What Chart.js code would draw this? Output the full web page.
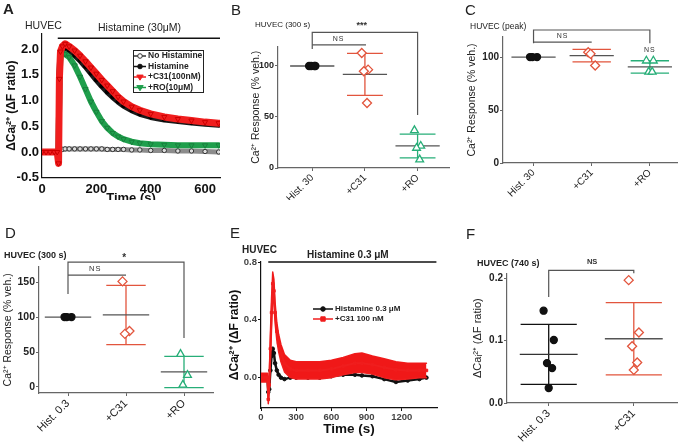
<!DOCTYPE html>
<html>
<head>
<meta charset="utf-8">
<script src="https://cdn.jsdelivr.net/npm/chart.js@4.4.1/dist/chart.umd.min.js"></script>
<style>
  html, body { margin: 0; padding: 0; background: #fff; }
  body { width: 683px; height: 446px; position: relative; overflow: hidden; font-family: 'Liberation Sans', Arial, sans-serif; }
  .panel { position: absolute; overflow: hidden; }
  .panel canvas { position: absolute; left: 0; top: 0; }
  .txt { position: absolute; white-space: nowrap; line-height: 1; color: #222; }
</style>
</head>
<body>
<div class="panel" style="left:0;top:0;width:225px;height:200px"><canvas id="chartA" width="225" height="210"></canvas></div>
<div class="panel" style="left:247px;top:0;width:208px;height:200px"><canvas id="chartB" width="208" height="205"></canvas></div>
<div class="panel" style="left:461px;top:0;width:222px;height:200px"><canvas id="chartC" width="222" height="205"></canvas></div>
<div class="panel" style="left:0;top:220px;width:225px;height:226px"><canvas id="chartD" width="225" height="226"></canvas></div>
<div class="panel" style="left:226px;top:220px;width:216px;height:226px"><canvas id="chartE" width="216" height="226"></canvas></div>
<div class="panel" style="left:471px;top:220px;width:212px;height:226px"><canvas id="chartF" width="212" height="226"></canvas></div>
<script>
// ---- A: time course, histamine 30 uM ----
const aTime   = [0, 15, 30, 45, 56, 61, 64, 68, 75, 85, 100, 120, 140, 160, 180, 200, 220, 240, 260, 280, 300, 330, 360, 400, 450, 500, 550, 600, 650];
const aNoHist = [0, 0, 0, 0, 0, 0, 0.02, 0.04, 0.05, 0.06, 0.06, 0.06, 0.06, 0.06, 0.06, 0.06, 0.06, 0.05, 0.05, 0.05, 0.05, 0.04, 0.04, 0.03, 0.03, 0.02, 0.02, 0.01, 0];
const aHist   = [0, 0, 0, 0, 0, -0.1, 1.5, 1.95, 2.0, 2.02, 1.98, 1.88, 1.78, 1.66, 1.53, 1.40, 1.28, 1.17, 1.07, 0.98, 0.90, 0.81, 0.74, 0.68, 0.63, 0.60, 0.57, 0.55, 0.53];
const aC31    = [0, 0, 0, 0, 0, -0.22, 1.42, 1.95, 2.05, 2.1, 2.05, 1.97, 1.87, 1.76, 1.64, 1.52, 1.40, 1.29, 1.18, 1.07, 0.98, 0.88, 0.81, 0.74, 0.68, 0.64, 0.61, 0.58, 0.56];
const aRo     = [0, 0, 0, 0, 0, -0.05, 1.4, 1.85, 1.92, 1.9, 1.84, 1.68, 1.46, 1.22, 0.98, 0.78, 0.60, 0.47, 0.37, 0.30, 0.25, 0.20, 0.17, 0.15, 0.14, 0.13, 0.13, 0.13, 0.13];
const aYTicks = [-0.5, 0, 0.5, 1, 1.5, 2];
const aXTicks = [0, 200, 400, 600];

// ---- B: 300 s, % of vehicle ----
const bCats = ['Hist. 30', '+C31', '+RO'];
const bHist = [100, 100, 100, 100];
const bC31  = [112.7, 96.4, 94.8, 63.7];
const bRo   = [36.9, 21.6, 19.6, 8.2];
const bMean = [100, 91.8, 21.6];
const bSd   = [0, 20.6, 11.6];
const bYTicks = [0, 50, 100];

// ---- C: peak, % of vehicle ----
const cCats = ['Hist. 30', '+C31', '+RO'];
const cHist = [100, 100, 100];
const cC31  = [104.5, 92, 103];
const cRo   = [96.5, 96.5, 86, 86];
const cMean = [100, 101.3, 90.7];
const cSd   = [0, 5.9, 5.8];
const cYTicks = [0, 50, 100];

// ---- D: 300 s, histamine 0.3 uM ----
const dCats = ['Hist. 0.3', '+C31', '+RO'];
const dHist = [100, 100, 100];
const dC31  = [151, 80, 76];
const dRo   = [47, 17, 3];
const dMean = [100, 103, 21.5];
const dSd   = [0, 42.3, 22.3];
const dYTicks = [0, 50, 100, 150];

// ---- E: time course, histamine 0.3 uM ----
const eTime  = [0, 20, 40, 55, 62, 70, 80, 90, 100, 110, 120, 135, 150, 170, 200, 250, 300, 400, 500, 600, 700, 800, 860, 950, 1050, 1150, 1250, 1350, 1410];
const eHist  = [0, 0, 0, 0, -0.1, -0.08, 0.05, 0.15, 0.2, 0.17, 0.1, 0.05, 0.02, 0, -0.01, 0, 0, 0, 0, 0.01, 0.02, 0.02, 0.015, 0.01, -0.01, -0.03, -0.02, -0.01, 0];
const eC31   = [0, 0, 0, 0, -0.15, -0.05, 0.2, 0.45, 0.65, 0.6, 0.45, 0.32, 0.24, 0.17, 0.1, 0.06, 0.05, 0.05, 0.05, 0.06, 0.08, 0.1, 0.1, 0.09, 0.07, 0.055, 0.05, 0.05, 0.05];
const eC31Hi = [0.03, 0.03, 0.03, 0.03, -0.12, 0, 0.3, 0.55, 0.73, 0.68, 0.52, 0.38, 0.3, 0.23, 0.16, 0.12, 0.11, 0.11, 0.11, 0.12, 0.14, 0.165, 0.17, 0.15, 0.13, 0.11, 0.1, 0.1, 0.1];
const eC31Lo = [-0.03, -0.03, -0.03, -0.03, -0.18, -0.1, 0.1, 0.35, 0.57, 0.52, 0.38, 0.26, 0.18, 0.11, 0.04, 0, -0.01, -0.01, -0.01, 0, 0.02, 0.035, 0.035, 0.025, 0, -0.015, -0.01, 0, 0];
const eYTicks = [0, 0.4, 0.8];
const eXTicks = [0, 300, 600, 900, 1200];

// ---- F: 740 s ----
const fCats = ['Hist. 0.3', '+C31'];
const fHist = [0.148, 0.101, 0.064, 0.056, 0.024];
const fC31  = [0.197, 0.113, 0.091, 0.065, 0.053];
const fMean = [0.078, 0.103];
const fSd   = [0.048, 0.058];
const fYTicks = [0, 0.1, 0.2];

// colours
const RED = '#f01e1e', GREEN = '#1f9f4c', DRED = '#e2553d', DGREEN = '#27ae78';
const AXIS = '#666', MEAN = '#555';
const JIT = [-0.06, 0.06, -0.02, 0.04, 0];
const FONT = "'Liberation Sans', Arial, sans-serif";

Chart.defaults.font.family = FONT;
Chart.defaults.color = '#222';

function marker(ctx, shape, px, py, r, stroke, fill) {
    ctx.beginPath();
    if (shape === 'circle') ctx.arc(px, py, r, 0, Math.PI * 2);
    else if (shape === 'rect') ctx.rect(px - r, py - r, 2 * r, 2 * r);
    else { ctx.moveTo(px - r, py - r * 0.6); ctx.lineTo(px + r, py - r * 0.6); ctx.lineTo(px, py + r); ctx.closePath(); }
    ctx.fillStyle = fill; ctx.fill();
    ctx.lineWidth = 1; ctx.strokeStyle = stroke; ctx.stroke();
}

// mean/SD bars, brackets, stimulus bars, legends
const overlay = {
    id: 'overlay',
    beforeDatasetsDraw(chart, args, o) {
        if (!o.mean) return;
        const { ctx, scales: { x, y } } = chart;
        ctx.save();
        ctx.lineWidth = 1.3;
        o.mean.forEach((m, i) => {
            const s = o.sd[i];
            if (s > 0) {
                ctx.strokeStyle = o.colors[i];
                ctx.beginPath();
                ctx.moveTo(x.getPixelForValue(i), y.getPixelForValue(m - s));
                ctx.lineTo(x.getPixelForValue(i), y.getPixelForValue(m + s));
                [m - s, m + s].forEach(v => {
                    ctx.moveTo(x.getPixelForValue(i - o.cap), y.getPixelForValue(v));
                    ctx.lineTo(x.getPixelForValue(i + o.cap), y.getPixelForValue(v));
                });
                ctx.stroke();
            }
            ctx.strokeStyle = o.meanColors ? o.meanColors[i] : MEAN;
            ctx.beginPath();
            ctx.moveTo(x.getPixelForValue(i - o.half), y.getPixelForValue(m));
            ctx.lineTo(x.getPixelForValue(i + o.half), y.getPixelForValue(m));
            ctx.stroke();
        });
        ctx.restore();
    },
    afterDatasetsDraw(chart, args, o) {
        const { ctx, scales: { x, y } } = chart;
        ctx.save();
        (o.brackets || []).forEach(b => {
            ctx.strokeStyle = MEAN; ctx.lineWidth = 1.2;
            ctx.beginPath();
            if (b.l0 != null) { ctx.moveTo(x.getPixelForValue(b.x0), y.getPixelForValue(b.l0)); ctx.lineTo(x.getPixelForValue(b.x0), y.getPixelForValue(b.y)); }
            else ctx.moveTo(x.getPixelForValue(b.x0), y.getPixelForValue(b.y));
            ctx.lineTo(x.getPixelForValue(b.x1), y.getPixelForValue(b.y));
            if (b.l1 != null) ctx.lineTo(x.getPixelForValue(b.x1), y.getPixelForValue(b.l1));
            ctx.stroke();
        });
        (o.bars || []).forEach(b => {
            ctx.strokeStyle = '#111'; ctx.lineWidth = b.w;
            ctx.beginPath();
            ctx.moveTo(x.getPixelForValue(b.x0), y.getPixelForValue(b.y));
            ctx.lineTo(x.getPixelForValue(b.x1), y.getPixelForValue(b.y));
            ctx.stroke();
        });
        (o.notes || []).forEach(n => {
            ctx.fillStyle = '#333';
            ctx.font = (n.bold ? 'bold ' : '') + n.size + 'px ' + FONT;
            ctx.textAlign = 'center'; ctx.textBaseline = 'middle';
            ctx.letterSpacing = n.sp || '0px';
            ctx.fillText(n.t, x.getPixelForValue(n.x), y.getPixelForValue(n.y));
        });
        ctx.letterSpacing = '0px';
        const lg = o.legend;
        if (lg) {
            if (lg.box) { ctx.strokeStyle = '#222'; ctx.lineWidth = 1; ctx.strokeRect(lg.box[0] + 0.5, lg.box[1] + 0.5, lg.box[2] - lg.box[0], lg.box[3] - lg.box[1]); }
            lg.items.forEach((it, k) => {
                const ry = lg.rows[k];
                ctx.strokeStyle = it.color; ctx.lineWidth = 1.5;
                ctx.beginPath(); ctx.moveTo(lg.x1, ry); ctx.lineTo(lg.x2, ry); ctx.stroke();
                marker(ctx, it.shape, (lg.x1 + lg.x2) / 2, ry, it.r, it.color, it.fill);
                ctx.fillStyle = '#222';
                ctx.font = 'bold ' + lg.size + 'px ' + FONT;
                ctx.textAlign = 'left'; ctx.textBaseline = 'middle';
                ctx.fillText(it.label, lg.tx, ry);
            });
        }
        ctx.restore();
    }
};

function series(t, v, o) {
    return Object.assign({
        data: t.map((tt, k) => ({ x: tt, y: v[k] })),
        tension: 0, borderJoinStyle: 'round', borderCapStyle: 'round', pointBorderWidth: 1
    }, o);
}

function dots(vals, i, style, color, fill, r) {
    return {
        data: vals.map((v, k) => ({ x: i + JIT[k], y: v })),
        pointStyle: style, pointRadius: r, pointBorderWidth: 1.3,
        pointBorderColor: color, pointBackgroundColor: fill
    };
}

function timeScales(p) {
    return {
        x: {
            type: 'linear', min: p.xMin, max: p.xMax,
            afterBuildTicks: s => { s.ticks = p.xTicks.map(v => ({ value: v })); },
            afterFit: s => { s.height = p.xH; },
            grid: { drawOnChartArea: false, drawTicks: p.tick > 0, tickLength: p.tick, color: '#111' },
            border: { color: '#111', width: 1.2 },
            ticks: { padding: p.xPad, color: p.tickColor, font: { size: p.xFont, weight: 'bold' }, callback: v => String(v) },
            title: { display: true, text: 'Time (s)', padding: { top: 0, bottom: p.xtPad }, color: '#111', font: { size: p.xtFont, weight: 'bold' } }
        },
        y: {
            min: p.yMin, max: p.yMax,
            afterBuildTicks: s => { s.ticks = p.yTicks.map(v => ({ value: v })); },
            afterFit: s => { s.width = p.yW; },
            grid: { drawOnChartArea: false, drawTicks: p.tick > 0, tickLength: p.tick, color: '#111' },
            border: { color: '#111', width: 1.2 },
            ticks: { padding: p.yPad, color: p.tickColor, font: { size: p.yFont, weight: 'bold' }, callback: v => v.toFixed(1) },
            title: { display: true, text: 'ΔCaᵢ²⁺ (ΔF ratio)', padding: { top: p.ytPad, bottom: 0 }, color: '#111', font: { size: p.ytFont, weight: 'bold' } }
        }
    };
}

function catScales(p) {
    return {
        x: {
            type: 'linear', min: p.xMin, max: p.xMax,
            afterBuildTicks: s => { s.ticks = p.cats.map((c, i) => ({ value: i })); },
            afterFit: s => { s.height = p.xH; },
            grid: { drawOnChartArea: false, tickLength: 3, color: AXIS },
            border: { color: AXIS, width: 1.2 },
            ticks: { autoSkip: false, minRotation: 45, maxRotation: 45, padding: 1, color: '#222', font: { size: p.xFont }, callback: v => p.cats[v] }
        },
        y: {
            min: p.yMin, max: p.yMax,
            afterBuildTicks: s => { s.ticks = p.yTicks.map(v => ({ value: v })); },
            afterFit: s => { s.width = p.yW; },
            grid: { drawOnChartArea: false, tickLength: 3, color: AXIS },
            border: { color: AXIS, width: 1.2 },
            ticks: { padding: 1, color: '#222', font: { size: p.yFont, weight: 'bold' }, callback: p.fmt },
            title: { display: true, text: p.title, padding: { top: p.tPad, bottom: 0 }, color: '#222', font: { size: p.tFont } }
        }
    };
}

function base(pad, scales, ov) {
    return {
        responsive: false, animation: false, devicePixelRatio: 1,
        layout: { padding: pad },
        scales: scales,
        plugins: { legend: { display: false }, tooltip: { enabled: false }, overlay: ov }
    };
}

// Panel A
new Chart(document.getElementById('chartA'), {
    type: 'line',
    data: {
        datasets: [
            series(aTime, aNoHist, { borderColor: '#8c8c8c', borderWidth: 5, pointRadius: 2.2, pointBackgroundColor: '#ddd', pointBorderColor: '#333', order: 4 }),
            series(aTime, aHist, { borderColor: '#1a1a1a', borderWidth: 6, pointRadius: 2, pointBackgroundColor: '#000', pointBorderColor: '#000', order: 3 }),
            series(aTime, aC31, { borderColor: RED, borderWidth: 7, pointStyle: 'triangle', pointRotation: 180, pointRadius: 3, pointBackgroundColor: RED, pointBorderColor: '#c00', order: 1 }),
            series(aTime, aRo, { borderColor: GREEN, borderWidth: 6, pointStyle: 'triangle', pointRotation: 180, pointRadius: 3, pointBackgroundColor: GREEN, pointBorderColor: '#17803c', order: 2 })
        ]
    },
    options: base({ left: 0, top: 33.5, right: 5, bottom: 0 },
        timeScales({ xMin: 0, xMax: 655, xTicks: aXTicks, xH: 32.25, xPad: 4, xFont: 13, xtFont: 13, xtPad: 4,
            yMin: -0.5, yMax: 2.3, yTicks: aYTicks, yW: 42, yPad: 3, yFont: 13, ytFont: 12, ytPad: 4.5, tick: 0, tickColor: '#111' }),
        {
            bars: [{ x0: 58, x1: 655, y: 2.21, w: 1.5 }],
            legend: {
                box: [133, 50, 203, 92], rows: [56, 66.5, 77, 87.5], x1: 134, x2: 146, tx: 148, size: 8.5,
                items: [
                    { label: 'No Histamine', shape: 'circle', r: 2.3, color: '#333', fill: '#fff' },
                    { label: 'Histamine', shape: 'circle', r: 2.3, color: '#111', fill: '#111' },
                    { label: '+C31(100nM)', shape: 'down', r: 3.2, color: RED, fill: RED },
                    { label: '+RO(10μM)', shape: 'down', r: 3.2, color: GREEN, fill: GREEN }
                ]
            }
        }),
    plugins: [overlay]
});

// Panel B
new Chart(document.getElementById('chartB'), {
    type: 'scatter',
    data: {
        datasets: [
            dots(bHist, 0, 'circle', '#111', '#111', 3.5),
            dots(bC31, 1, 'rectRot', DRED, '#fff', 4.5),
            dots(bRo, 2, 'triangle', DGREEN, '#fff', 4.5)
        ]
    },
    options: base({ left: 0, top: 46.6, right: 3, bottom: 0 },
        catScales({ cats: bCats, xMin: -0.65, xMax: 2.6, xH: 37, xFont: 10, yMin: 0, yMax: 119, yTicks: bYTicks, yW: 31,
            yFont: 9, fmt: v => v, title: 'Ca²⁺ Response (% veh.)', tPad: 3, tFont: 10.5 }),
        {
            mean: bMean, sd: bSd, colors: ['#111', DRED, DGREEN], half: 0.42, cap: 0.34,
            brackets: [{ x0: 0, x1: 2, y: 133, l0: 116.7, l1: 52 }, { x0: 0, x1: 1.02, y: 120.6 }],
            notes: [{ t: '***', x: 0.94, y: 140, size: 9, bold: true }, { t: 'NS', x: 0.5, y: 126.5, size: 7, sp: '1px' }]
        }),
    plugins: [overlay]
});

// Panel C
new Chart(document.getElementById('chartC'), {
    type: 'scatter',
    data: {
        datasets: [
            dots(cHist, 0, 'circle', '#111', '#111', 3.5),
            dots(cC31, 1, 'rectRot', DRED, '#fff', 4.5),
            dots(cRo, 2, 'triangle', DGREEN, '#fff', 4.5)
        ]
    },
    options: base({ left: 0, top: 36.9, right: 2, bottom: 0 },
        catScales({ cats: cCats, xMin: -0.525, xMax: 2.47, xH: 42, xFont: 10, yMin: 0, yMax: 119, yTicks: cYTicks, yW: 42,
            yFont: 10, fmt: v => v, title: 'Ca²⁺ Response (% veh.)', tPad: 4.5, tFont: 10.5 }),
        {
            mean: cMean, sd: cSd, colors: ['#111', DRED, DGREEN], half: 0.38, cap: 0.33,
            brackets: [{ x0: 0, x1: 2, y: 125.5, l0: 113, l1: 113 }, { x0: 0, x1: 1, y: 114 }],
            notes: [{ t: 'NS', x: 0.5, y: 119.5, size: 7, sp: '1px' }, { t: 'NS', x: 2, y: 107, size: 7, sp: '1px' }]
        }),
    plugins: [overlay]
});

// Panel D
new Chart(document.getElementById('chartD'), {
    type: 'scatter',
    data: {
        datasets: [
            dots(dHist, 0, 'circle', '#111', '#111', 3.5),
            dots(dC31, 1, 'rectRot', DRED, '#fff', 4.5),
            dots(dRo, 2, 'triangle', DGREEN, '#fff', 4.5)
        ]
    },
    options: base({ left: 0, top: 46.7, right: 12, bottom: 0 },
        catScales({ cats: dCats, xMin: -0.5, xMax: 2.5, xH: 53, xFont: 11, yMin: -8.6, yMax: 172, yTicks: dYTicks, yW: 39,
            yFont: 10.5, fmt: v => v, title: 'Ca²⁺ Response (% veh.)', tPad: 2, tFont: 10.5 }),
        {
            mean: dMean, sd: dSd, colors: ['#111', DRED, DGREEN], half: 0.4, cap: 0.34,
            brackets: [{ x0: 0, x1: 2, y: 178.6, l0: 133, l1: 70 }, { x0: 0, x1: 1, y: 160 }],
            notes: [{ t: '*', x: 0.97, y: 184, size: 10, bold: true }, { t: 'NS', x: 0.47, y: 168.5, size: 7.5, sp: '1px' }]
        }),
    plugins: [overlay]
});

// Panel E
new Chart(document.getElementById('chartE'), {
    type: 'line',
    data: {
        datasets: [
            series(eTime, eHist, { borderColor: '#111', borderWidth: 2.5, pointRadius: 1.8, pointBackgroundColor: '#111', pointBorderColor: '#111', order: 4 }),
            series(eTime, eC31Hi, { borderColor: RED, borderWidth: 1.5, pointRadius: 0, order: 3 }),
            series(eTime, eC31Lo, { borderColor: RED, borderWidth: 1.5, pointRadius: 0, fill: '-1', backgroundColor: 'rgb(240,24,24)', order: 2 }),
            series(eTime, eC31, { borderColor: RED, borderWidth: 2, pointStyle: 'rect', pointRadius: 1.8, pointBackgroundColor: RED, pointBorderColor: RED, order: 1 })
        ]
    },
    options: base({ left: 0, top: 42, right: 4, bottom: 0 },
        timeScales({ xMin: 0, xMax: 1500, xTicks: eXTicks, xH: 38, xPad: 1, xFont: 9.5, xtFont: 13.5, xtPad: 9,
            yMin: -0.21, yMax: 0.8, yTicks: eYTicks, yW: 35, yPad: 1, yFont: 9.5, ytFont: 12, ytPad: 1, tick: 3, tickColor: '#444' }),
        {
            bars: [{ x0: 62, x1: 1495, y: 0.8, w: 1.5 }],
            legend: {
                rows: [89, 99], x1: 87, x2: 107, tx: 109, size: 8,
                items: [
                    { label: 'Histamine 0.3 μM', shape: 'circle', r: 2.3, color: '#111', fill: '#111' },
                    { label: '+C31 100 nM', shape: 'rect', r: 2.2, color: RED, fill: RED }
                ]
            }
        }),
    plugins: [overlay]
});

// Panel F
new Chart(document.getElementById('chartF'), {
    type: 'scatter',
    data: {
        datasets: [
            dots(fHist, 0, 'circle', '#111', '#111', 3.5),
            dots(fC31, 1, 'rectRot', DRED, '#fff', 4.5)
        ]
    },
    options: base({ left: 0, top: 53.3, right: 0, bottom: 0 },
        catScales({ cats: fCats, xMin: -0.49, xMax: 1.51, xH: 43, xFont: 11, yMin: 0, yMax: 0.208, yTicks: fYTicks, yW: 36,
            yFont: 10, fmt: v => v.toFixed(1), title: 'ΔCaᵢ²⁺ (ΔF ratio)', tPad: 0.5, tFont: 11 }),
        {
            mean: fMean, sd: fSd, colors: ['#111', DRED], meanColors: ['#333', MEAN], half: 0.34, cap: 0.33,
            brackets: [{ x0: 0, x1: 1, y: 0.2128, l0: 0.17, l1: 0.208 }],
            notes: [{ t: 'NS', x: 0.51, y: 0.2256, size: 7.5, bold: true }]
        }),
    plugins: [overlay]
});

// panel letters and headers
const headers = [
    ['A', 3, 1.3, 15, 'bold'], ['HUVEC', 25, 19.6, 10.5, 'normal'], ['Histamine (30μM)', 98, 21.6, 10.5, 'normal'],
    ['B', 231, 2, 15, 'normal'], ['HUVEC (300 s)', 255, 21, 8, 'normal'],
    ['C', 465, 2, 15, 'normal'], ['HUVEC (peak)', 470, 22, 8.5, 'normal'],
    ['D', 5, 225, 15, 'normal'], ['HUVEC (300 s)', 4, 250.8, 9, 'bold'],
    ['E', 230, 225, 15, 'normal'], ['HUVEC', 242, 244.7, 10, 'bold'], ['Histamine 0.3 μM', 307, 249.7, 10, 'bold'],
    ['F', 466, 226, 15, 'normal'], ['HUVEC (740 s)', 477, 258.8, 9, 'bold']
];
headers.forEach(([t, l, tp, s, w]) => {
    const d = document.createElement('div');
    d.className = 'txt';
    d.textContent = t;
    d.style.left = l + 'px'; d.style.top = tp + 'px';
    d.style.fontSize = s + 'px'; d.style.fontWeight = w;
    document.body.appendChild(d);
});
</script>
</body>
</html>
